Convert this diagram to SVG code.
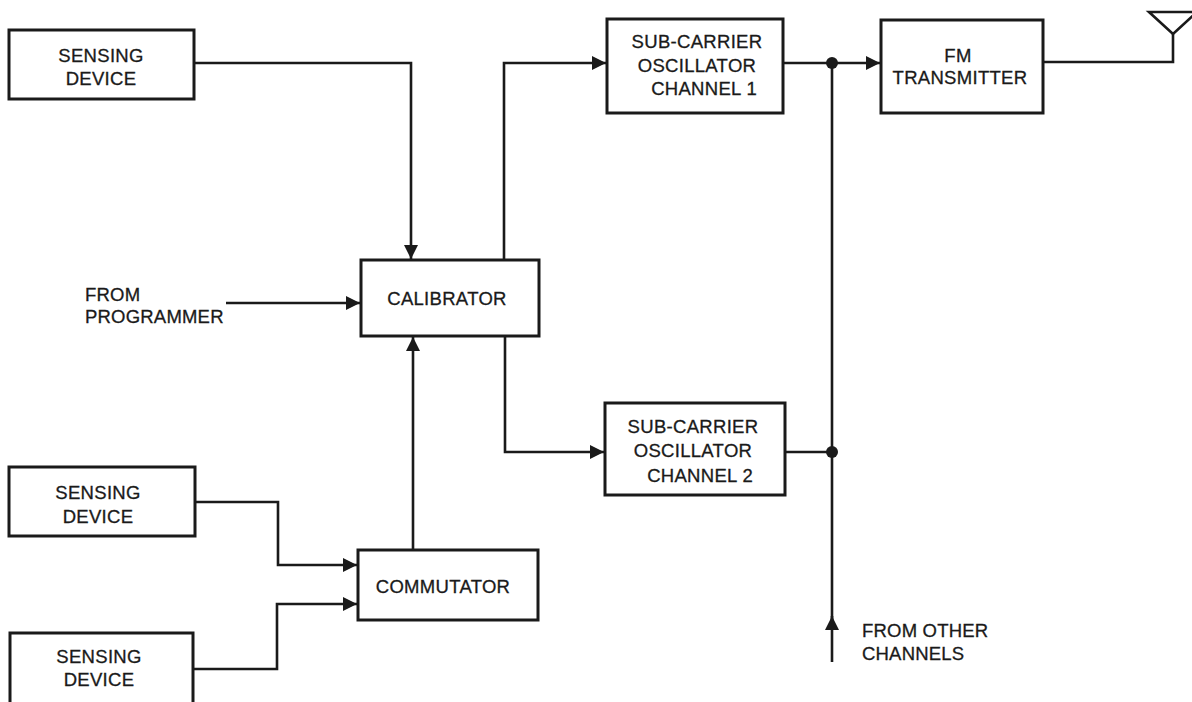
<svg xmlns="http://www.w3.org/2000/svg" width="1192" height="702" viewBox="0 0 1192 702">
<style>
.box{fill:#fff;stroke:#1a1a1a;stroke-width:3}
.ln{fill:none;stroke:#1a1a1a;stroke-width:2.6}
.t{font-family:"Liberation Sans",Arial,sans-serif;font-size:18.5px;letter-spacing:0.3px;fill:#1a1a1a;stroke:#1a1a1a;stroke-width:0.3;text-anchor:middle}
.tl{font-family:"Liberation Sans",Arial,sans-serif;font-size:18.5px;letter-spacing:0.2px;fill:#1a1a1a;stroke:#1a1a1a;stroke-width:0.3}
</style>
<defs>
<marker id="ah" markerUnits="userSpaceOnUse" markerWidth="15" markerHeight="14" refX="14" refY="7" orient="auto">
<path d="M0,0 L14,7 L0,14 z" fill="#1a1a1a"/>
</marker>
</defs>
<rect width="1192" height="702" fill="#fff"/>
<g id="connectors">
<path class="ln" d="M194 63 H411 V259" marker-end="url(#ah)"/>
<path class="ln" d="M226 303 H360" marker-end="url(#ah)"/>
<path class="ln" d="M504 260 V63 H606" marker-end="url(#ah)"/>
<path class="ln" d="M505 336 V452 H604" marker-end="url(#ah)"/>
<path class="ln" d="M783 63 H880" marker-end="url(#ah)"/>
<path class="ln" d="M785 452 H832"/>
<path class="ln" d="M832 662 V616" marker-end="url(#ah)"/>
<path class="ln" d="M832 620 V63"/>
<path class="ln" d="M195 502 H278 V565 H357" marker-end="url(#ah)"/>
<path class="ln" d="M193 669 H277 V604 H357" marker-end="url(#ah)"/>
<path class="ln" d="M413 550 V337" marker-end="url(#ah)"/>
<path class="ln" d="M1043 62 H1173 V33"/>
<circle cx="832" cy="63" r="6" fill="#1a1a1a"/>
<circle cx="832" cy="452" r="6" fill="#1a1a1a"/>
</g>
<g id="antenna">
<path class="ln" d="M1149 12 H1197 L1173 34 Z"/>
</g>
<g id="sensing1">
<rect class="box" x="9" y="30" width="185" height="69"/>
<text class="t" x="101" y="62">SENSING</text>
<text class="t" x="101" y="85">DEVICE</text>
</g>
<g id="sensing2">
<rect class="box" x="9" y="467" width="186" height="69"/>
<text class="t" x="98" y="499">SENSING</text>
<text class="t" x="98" y="523">DEVICE</text>
</g>
<g id="sensing3">
<rect class="box" x="10" y="633" width="183" height="72"/>
<text class="t" x="99" y="663">SENSING</text>
<text class="t" x="99" y="686">DEVICE</text>
</g>
<g id="programmer">
<text class="tl" x="85" y="301">FROM</text>
<text class="tl" x="85" y="323">PROGRAMMER</text>
</g>
<g id="calibrator">
<rect class="box" x="361" y="260" width="178" height="76"/>
<text class="t" x="447" y="305">CALIBRATOR</text>
</g>
<g id="commutator">
<rect class="box" x="358" y="550" width="180" height="70"/>
<text class="t" x="443" y="593">COMMUTATOR</text>
</g>
<g id="sco1">
<rect class="box" x="607" y="19" width="176" height="94"/>
<text class="t" x="697" y="48">SUB-CARRIER</text>
<text class="t" x="697" y="72">OSCILLATOR</text>
<text class="t" x="757" y="95" style="text-anchor:end">CHANNEL 1</text>
</g>
<g id="sco2">
<rect class="box" x="605" y="403" width="180" height="92"/>
<text class="t" x="693" y="433">SUB-CARRIER</text>
<text class="t" x="693" y="457">OSCILLATOR</text>
<text class="t" x="753" y="482" style="text-anchor:end">CHANNEL 2</text>
</g>
<g id="fm">
<rect class="box" x="881" y="20" width="162" height="93"/>
<text class="t" x="958" y="62">FM</text>
<text class="t" x="960" y="84">TRANSMITTER</text>
</g>
<g id="other">
<text class="tl" x="862" y="637">FROM OTHER</text>
<text class="tl" x="862" y="660">CHANNELS</text>
</g>
</svg>
